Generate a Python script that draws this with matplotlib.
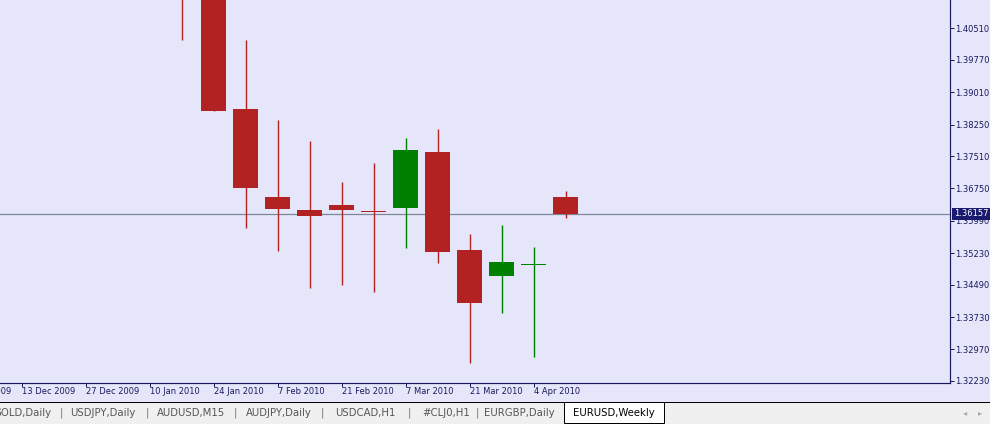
import matplotlib
matplotlib.use("Agg")
import matplotlib.pyplot as plt
import matplotlib.dates as mdates
from matplotlib.patches import Rectangle
from datetime import date, timedelta

# weekly EURUSD candles (first candle's top is off-screen)
weeks = [date(2010, 1, 17), date(2010, 1, 24), date(2010, 1, 31), date(2010, 2, 7),
         date(2010, 2, 14), date(2010, 2, 21), date(2010, 2, 28), date(2010, 3, 7),
         date(2010, 3, 14), date(2010, 3, 21), date(2010, 3, 28), date(2010, 4, 4),
         date(2010, 4, 11)]
opens = [1.4380, 1.4140, 1.3862, 1.3655, 1.3625, 1.3636, 1.3622, 1.3630, 1.3761, 1.3531, 1.3470, 1.3495, 1.3655]
highs = [1.4445, 1.4170, 1.4024, 1.3836, 1.3787, 1.3690, 1.3735, 1.3794, 1.3815, 1.3568, 1.3589, 1.3538, 1.3669]
lows = [1.4024, 1.3857, 1.3582, 1.3529, 1.3442, 1.3449, 1.3433, 1.3536, 1.3501, 1.3266, 1.3383, 1.3280, 1.3606]
closes = [1.4140, 1.3857, 1.3675, 1.3627, 1.3610, 1.3624, 1.3620, 1.3765, 1.3527, 1.3407, 1.3502, 1.3497, 1.36157]
last_price = 1.36157

price_ticks = [1.32230, 1.32970, 1.33730, 1.34490, 1.35230, 1.35990,
               1.36750, 1.37510, 1.38250, 1.39010, 1.39770, 1.40510]
date_ticks = [date(2009, 11, 29) + timedelta(days=14 * i) for i in range(10)]
tabs = ["GOLD,Daily", "USDJPY,Daily", "AUDUSD,M15", "AUDJPY,Daily",
        "USDCAD,H1", "#CLJ0,H1", "EURGBP,Daily", "EURUSD,Weekly"]

BG = "#E6E6FA"
RED = "#B22222"
GREEN = "#008000"
NAVY = "#1a1a5c"
PX = 0.72  # one pixel in points

fig = plt.figure(figsize=(9.9, 4.24), dpi=100, facecolor=BG)

# window chrome (tab bar) in pixel coords
cax = fig.add_axes([0, 0, 1, 1], zorder=0)
cax.set_xlim(0, 990)
cax.set_ylim(424, 0)
cax.axis("off")
cax.add_patch(Rectangle((0, 402), 990, 22, fc="#F0F0F0", ec="none"))
cax.plot([0, 990], [402, 402], color="black", lw=PX)
cax.add_patch(Rectangle((564, 402), 100, 21, fc="white", ec="black", lw=PX))
tab_x = [22, 103, 191, 279, 365, 446, 519, 614]
for i, (t, tx) in enumerate(zip(tabs, tab_x)):
    active = i == len(tabs) - 1
    cax.text(tx, 413, t, ha="center", va="center", fontsize=7.3,
             color="black" if active else "#555555")
for sx in [61, 147, 235, 322, 409, 477]:
    cax.text(sx, 413, "|", ha="center", va="center", fontsize=7.3, color="#777777")
cax.text(965, 413, "\u25c2", ha="center", va="center", fontsize=6, color="#aaaaaa")
cax.text(980, 413, "\u25b8", ha="center", va="center", fontsize=6, color="#aaaaaa")

# main chart
ax = fig.add_axes([0, 41 / 424, 950 / 990, 383 / 424], zorder=1)
ax.set_facecolor(BG)

x = mdates.date2num(weeks)
for xi, o, h, l, c in zip(x, opens, highs, lows, closes):
    col = GREEN if c > o else RED
    ax.vlines(xi, l, h, colors=col, lw=1.0, zorder=2)
    ax.bar(xi, max(abs(c - o), 0.00022), bottom=min(o, c), width=5.5, color=col, lw=0, zorder=3)

ax.axhline(last_price, color="#7d8799", lw=0.9, zorder=1)

for s in ["top", "left"]:
    ax.spines[s].set_visible(False)
for s in ["right", "bottom"]:
    ax.spines[s].set_color(NAVY)
    ax.spines[s].set_linewidth(PX * 1.2)

ax.yaxis.tick_right()
ax.set_yticks(price_ticks, [f"{p:.5f}" for p in price_ticks])
ax.tick_params(axis="y", direction="out", length=3, width=PX, color=NAVY,
               labelsize=6, labelcolor=NAVY, pad=1)

ax.set_xticks(mdates.date2num(date_ticks), [""] * len(date_ticks))
ax.tick_params(axis="x", direction="out", length=3, width=PX, color=NAVY)

# limits after ticks, since set_xticks widens the view to fit off-screen ticks
x0 = mdates.date2num(date(2009, 12, 13))
ax.set_xlim(x0 - 21.5 / 32 * 7, x0 + 928.5 / 32 * 7)
ax.set_ylim(1.32183, 1.41176)

for d in date_ticks:
    ax.annotate(f"{d.day} {d.strftime('%b %Y')}", xy=(mdates.date2num(d), 0),
                xycoords=("data", "axes fraction"), xytext=(0, -9),
                textcoords="offset pixels", ha="left", va="center",
                fontsize=6, color=NAVY, annotation_clip=False)

ax.annotate(f"{last_price:.5f}", xy=(1, last_price), xycoords=("axes fraction", "data"),
            xytext=(4, 0), textcoords="offset pixels", ha="left", va="center",
            fontsize=6, color="white", zorder=10, annotation_clip=False,
            bbox=dict(boxstyle="square,pad=0.2", fc="#1a1a6e", ec="none"))

fig.savefig("out.png", dpi=100, facecolor=BG)
plt.close(fig)
